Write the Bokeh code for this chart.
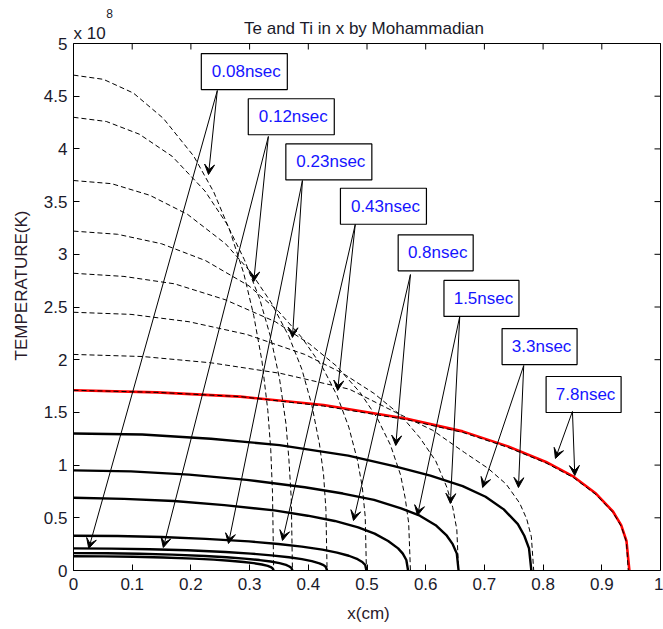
import math
from bokeh.plotting import figure
from bokeh.models import (Range1d, FixedTicker, NumeralTickFormatter, Arrow, VeeHead,
                          ColumnDataSource, Label, BoxAnnotation)
from bokeh.core.properties import value
from bokeh.embed import file_html
from bokeh.resources import INLINE

# ---------------- data (temperatures in units of 1e8 K) ----------------
x_ticks = [0, 0.1, 0.2, 0.3, 0.4, 0.5, 0.6, 0.7, 0.8, 0.9, 1.0]
y_ticks = [0, 0.5, 1, 1.5, 2, 2.5, 3, 3.5, 4, 4.5, 5]

times = ["0.08nsec", "0.12nsec", "0.23nsec", "0.43nsec", "0.8nsec", "1.5nsec", "3.3nsec", "7.8nsec"]

# electron temperature (dashed)
te_008_x = [0, 0.051, 0.102, 0.153, 0.205, 0.239, 0.266, 0.290, 0.307, 0.321, 0.331, 0.336, 0.339, 0.341]
te_008_y = [4.70, 4.66, 4.53, 4.29, 3.93, 3.59, 3.23, 2.82, 2.42, 1.99, 1.52, 1.15, 0.74, 0]
te_012_x = [0, 0.056, 0.112, 0.168, 0.224, 0.261, 0.291, 0.317, 0.336, 0.351, 0.362, 0.367, 0.371, 0.373]
te_012_y = [4.30, 4.26, 4.14, 3.93, 3.60, 3.29, 2.95, 2.58, 2.21, 1.82, 1.39, 1.05, 0.68, 0]
te_023_x = [0, 0.065, 0.130, 0.194, 0.259, 0.302, 0.337, 0.367, 0.389, 0.406, 0.419, 0.426, 0.430, 0.432]
te_023_y = [3.70, 3.67, 3.56, 3.38, 3.10, 2.83, 2.54, 2.22, 1.91, 1.57, 1.20, 0.91, 0.58, 0]
te_043_x = [0, 0.075, 0.150, 0.225, 0.299, 0.349, 0.389, 0.424, 0.449, 0.469, 0.484, 0.492, 0.497, 0.499]
te_043_y = [3.22, 3.19, 3.10, 2.94, 2.70, 2.46, 2.21, 1.93, 1.66, 1.36, 1.04, 0.79, 0.51, 0]
te_08_x = [0, 0.086, 0.172, 0.258, 0.344, 0.402, 0.448, 0.488, 0.517, 0.540, 0.557, 0.565, 0.571, 0.574]
te_08_y = [2.82, 2.79, 2.72, 2.57, 2.36, 2.15, 1.94, 1.69, 1.45, 1.19, 0.91, 0.69, 0.45, 0]
te_15_x = [0, 0.098, 0.197, 0.295, 0.394, 0.459, 0.512, 0.558, 0.590, 0.617, 0.636, 0.646, 0.653, 0.656]
te_15_y = [2.45, 2.43, 2.36, 2.24, 2.05, 1.87, 1.68, 1.47, 1.26, 1.04, 0.79, 0.60, 0.39, 0]
te_33_x = [0, 0.118, 0.235, 0.353, 0.470, 0.549, 0.612, 0.666, 0.706, 0.737, 0.760, 0.772, 0.780, 0.784]
te_33_y = [2.05, 2.03, 1.97, 1.87, 1.72, 1.50, 1.33, 1.12, 0.97, 0.82, 0.64, 0.49, 0.32, 0]
te_78_x = [0, 0.142, 0.284, 0.426, 0.568, 0.663, 0.739, 0.805, 0.852, 0.890, 0.919, 0.933, 0.942, 0.945]
te_78_y = [1.71, 1.69, 1.65, 1.56, 1.43, 1.31, 1.17, 1.02, 0.88, 0.72, 0.55, 0.42, 0.27, 0]

# ion temperature (solid)
ti_008_y = [0.135, 0.134, 0.130, 0.123, 0.113, 0.103, 0.093, 0.081, 0.070, 0.057, 0.044, 0.033, 0.021, 0]
ti_012_y = [0.165, 0.164, 0.159, 0.151, 0.138, 0.126, 0.113, 0.099, 0.085, 0.070, 0.053, 0.040, 0.026, 0]
ti_023_y = [0.21, 0.208, 0.202, 0.192, 0.176, 0.160, 0.144, 0.126, 0.108, 0.089, 0.068, 0.051, 0.033, 0]
ti_043_y = [0.33, 0.327, 0.318, 0.30, 0.276, 0.252, 0.227, 0.198, 0.17, 0.14, 0.107, 0.081, 0.052, 0]
ti_08_x = [0, 0.086, 0.171, 0.257, 0.342, 0.399, 0.445, 0.485, 0.513, 0.536, 0.553, 0.561, 0.567, 0.570]
ti_08_y = [0.69, 0.68, 0.66, 0.62, 0.57, 0.52, 0.47, 0.41, 0.35, 0.28, 0.21, 0.16, 0.10, 0]
ti_15_y = [0.95, 0.94, 0.91, 0.86, 0.79, 0.73, 0.67, 0.59, 0.52, 0.43, 0.33, 0.25, 0.16, 0]
ti_33_x = [0, 0.117, 0.234, 0.351, 0.468, 0.546, 0.608, 0.663, 0.702, 0.733, 0.757, 0.768, 0.776, 0.780]
ti_33_y = [1.30, 1.29, 1.25, 1.19, 1.09, 0.99, 0.90, 0.80, 0.70, 0.58, 0.44, 0.33, 0.21, 0]
ti_78_x = [0, 0.142, 0.284, 0.426, 0.568, 0.663, 0.739, 0.805, 0.852, 0.890, 0.919, 0.933, 0.942, 0.947]
ti_78_y = [1.71, 1.69, 1.65, 1.57, 1.44, 1.32, 1.18, 1.03, 0.89, 0.73, 0.56, 0.43, 0.28, 0]

# annotation boxes (data coords of box centre) and arrows
label_x = [0.291, 0.371, 0.435, 0.528, 0.617, 0.695, 0.794, 0.869]
label_y = [4.734, 4.305, 3.876, 3.456, 3.014, 2.581, 2.125, 1.670]
arrow_x0 = [0.245, 0.245, 0.332, 0.332, 0.390, 0.390, 0.480, 0.480, 0.574, 0.574, 0.658, 0.658, 0.767, 0.767, 0.850, 0.850]
arrow_y0 = [4.554, 4.554, 4.118, 4.118, 3.700, 3.700, 3.283, 3.283, 2.808, 2.808, 2.410, 2.410, 1.945, 1.945, 1.509, 1.509]
arrow_x1 = [0.230, 0.026, 0.307, 0.153, 0.373, 0.264, 0.450, 0.356, 0.549, 0.477, 0.642, 0.586, 0.758, 0.697, 0.821, 0.854]
arrow_y1 = [3.757, 0.209, 2.742, 0.218, 2.211, 0.256, 1.708, 0.285, 1.186, 0.474, 0.636, 0.522, 0.787, 0.787, 1.063, 0.901]

FONT = "Liberation Sans"
TXT = "#1a1a2a"

# frame covers the box plus a strip above it for the title / exponent texts
x_lo, x_hi = x_ticks[0], x_ticks[-1]
y_lo, y_hi = y_ticks[0], y_ticks[-1]
p = figure(width=663, height=629,
           x_range=Range1d(x_lo, x_hi * 590 / 587), y_range=Range1d(y_lo, y_hi * 570 / 527),
           output_backend="svg", toolbar_location=None,
           min_border_left=73, min_border_right=0, min_border_top=0, min_border_bottom=59)
p.background_fill_color = "white"
p.border_fill_color = "white"
p.outline_line_color = None
p.xgrid.visible = False
p.ygrid.visible = False

for ax, ticks in ((p.xaxis[0], x_ticks), (p.yaxis[0], y_ticks)):
    ax.ticker = FixedTicker(ticks=ticks)
    ax.bounds = (ticks[0], ticks[-1])
    ax.formatter = NumeralTickFormatter(format="0.[0]")
    ax.major_tick_in = 6
    ax.major_tick_out = 0
    ax.minor_tick_line_color = None
    ax.axis_line_color = "black"
    ax.major_tick_line_color = "black"
    ax.major_label_text_font = FONT
    ax.major_label_text_font_size = "17px"
    ax.major_label_text_color = TXT
    ax.axis_label_text_font = FONT
    ax.axis_label_text_font_size = "17px"
    ax.axis_label_text_font_style = "normal"
    ax.axis_label_text_color = "#2a1a2a"

p.xaxis.axis_label = "x(cm)"
p.yaxis.axis_label = "TEMPERATURE(K)"
p.xaxis.major_label_standoff = 7
p.xaxis.axis_label_standoff = 11
p.yaxis.major_label_standoff = 6
p.yaxis.axis_label_standoff = 10

# axes box and inward ticks on its top and right edges
p.add_layout(BoxAnnotation(left=x_lo, right=x_hi, bottom=y_lo, top=y_hi, fill_alpha=0,
                           line_color="black", line_width=1, line_alpha=1))
p.ray(x=x_ticks, y=[y_hi] * len(x_ticks), length=6, length_units="screen", angle=-math.pi / 2,
      line_color="black", line_width=1)
p.ray(x=[x_hi] * len(y_ticks), y=y_ticks, length=6, length_units="screen", angle=math.pi,
      line_color="black", line_width=1)

dash = "5 3"
te_series = [(te_008_x, te_008_y), (te_012_x, te_012_y), (te_023_x, te_023_y), (te_043_x, te_043_y),
             (te_08_x, te_08_y), (te_15_x, te_15_y), (te_33_x, te_33_y)]
for xs, ys in te_series:
    p.line(xs, ys, line_color="black", line_width=1, line_dash=dash)

ti_series = [(te_008_x, ti_008_y), (te_012_x, ti_012_y), (te_023_x, ti_023_y), (te_043_x, ti_043_y),
             (ti_08_x, ti_08_y), (te_15_x, ti_15_y), (ti_33_x, ti_33_y)]
for xs, ys in ti_series:
    p.line(xs, ys, line_color="black", line_width=2.4, line_join="round")

p.line(ti_78_x, ti_78_y, line_color="#ff0000", line_width=2.6, line_join="round")
p.line(te_78_x, te_78_y, line_color="black", line_width=1, line_dash=dash)

arrows = ColumnDataSource(dict(x0=arrow_x0, y0=arrow_y0, x1=arrow_x1, y1=arrow_y1))
p.add_layout(Arrow(source=arrows, x_start="x0", y_start="y0", x_end="x1", y_end="y1",
                   line_color="black", line_width=1,
                   end=VeeHead(size=10, fill_color="black", line_color="black", line_width=1)))

box_w = [11 * len(t) - 2 for t in times]
p.rect(label_x, label_y, width=box_w, height=36, width_units="screen", height_units="screen",
       fill_color="white", line_color="black", line_width=1.2)
p.text(label_x, label_y, text=times, text_align="center", text_baseline="middle",
       text_color="#1515ff", text_font=value(FONT), text_font_size="17px", x_offset=2)

p.add_layout(Label(x=0.4952, y=5.142, text="Te and Ti in x by Mohammadian", text_align="center",
                   text_baseline="alphabetic", text_font=FONT, text_font_size="17px",
                   text_color=TXT))
p.add_layout(Label(x=0.0, y=5.095, text="x 10", text_align="left", text_baseline="alphabetic",
                   text_font=FONT, text_font_size="17px", text_color=TXT))
p.add_layout(Label(x=0.056, y=5.28, text="8", text_align="left", text_baseline="alphabetic",
                   text_font=FONT, text_font_size="12px", text_color=TXT))

open("out.html", "w").write(file_html(p, INLINE))
